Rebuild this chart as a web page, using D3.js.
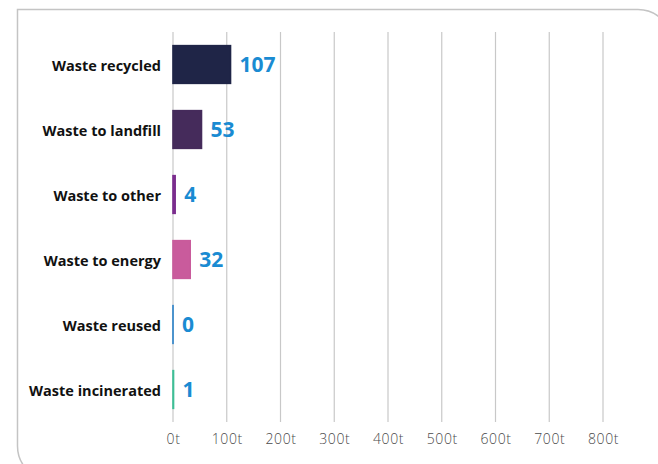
<!DOCTYPE html>
<html>
<head>
<meta charset="utf-8">
<script src="https://cdn.jsdelivr.net/npm/d3@7/dist/d3.min.js"></script>
<style>
  html, body { margin: 0; padding: 0; background: #fff; }
  svg { display: block; }
</style>
</head>
<body>
<svg id="chart" width="658" height="464"></svg>
<script>
// Waste breakdown, tonnes
const categories = ["Waste recycled", "Waste to landfill", "Waste to other", "Waste to energy", "Waste reused", "Waste incinerated"];
const values = [107, 53, 4, 32, 0, 1];
const barColors = ["#1f2547", "#452b5b", "#7b2d8e", "#c95b9c", "#2a82c9", "#3dbf96"];
const tickValues = [0, 100, 200, 300, 400, 500, 600, 700, 800];
const tickLabels = ["0t", "100t", "200t", "300t", "400t", "500t", "600t", "700t", "800t"];

const svg = d3.select("#chart");
const font = "'Open Sans', 'DejaVu Sans', sans-serif";

// Card outline: rounded top-right and bottom-left corners, running off the edge
const L = 17.5, T = 9.5, R = 672, B = 480, r = 34;
svg.append("path")
  .attr("d", `M${L},${T} H${R - r} A${r},${r} 0 0 1 ${R},${T + r} V${B} H${L + r} A${r},${r} 0 0 1 ${L},${B - r} Z`)
  .attr("fill", "none")
  .attr("stroke", "#c4c4c4")
  .attr("stroke-width", 1.5);

const x = d3.scaleLinear().domain([0, 800]).range([173, 603]);
const y = d3.scaleBand().domain(categories).range([32, 422]).paddingInner(0.42).paddingOuter(0.21);

// Vertical gridlines
svg.append("g").selectAll("line")
  .data(tickValues)
  .join("line")
  .attr("x1", d => x(d)).attr("x2", d => x(d))
  .attr("y1", 32).attr("y2", 422)
  .attr("stroke", "#c8c8c8")
  .attr("stroke-width", 1.2);

// Tick labels
const xAxis = d3.axisBottom(x).tickValues(tickValues).tickSize(0).tickPadding(0)
  .tickFormat((d, i) => tickLabels[i]);
const gx = svg.append("g").attr("transform", "translate(0,444)").call(xAxis);
gx.select(".domain").remove();
gx.selectAll("text")
  .attr("dy", 0)
  .attr("font-family", font)
  .attr("font-size", 14)
  .attr("font-weight", 300)
  .attr("letter-spacing", 0.6)
  .attr("fill", "#4a4a4a");

// Bars (a hairline minimum keeps zero values visible on the axis)
svg.append("g").selectAll("rect")
  .data(categories)
  .join("rect")
  .attr("x", x(0))
  .attr("y", d => y(d))
  .attr("width", (d, i) => Math.max(x(values[i]) - x(0), 0.01))
  .attr("height", y.bandwidth())
  .attr("fill", (d, i) => barColors[i])
  .attr("stroke", (d, i) => barColors[i])
  .attr("stroke-width", 1.6);

// Category labels
svg.append("g").selectAll("text")
  .data(categories)
  .join("text")
  .attr("x", 161)
  .attr("y", d => y(d) + y.bandwidth() / 2)
  .attr("dy", "0.45em")
  .attr("text-anchor", "end")
  .attr("font-family", font)
  .attr("font-size", 14.5)
  .attr("font-weight", 700)
  .attr("letter-spacing", 0)
  .attr("fill", "#111")
  .text(d => d);

// Value labels
svg.append("g").selectAll("text")
  .data(categories)
  .join("text")
  .attr("x", (d, i) => x(values[i]) + 9)
  .attr("y", d => y(d) + y.bandwidth() / 2)
  .attr("dy", "0.38em")
  .attr("font-family", font)
  .attr("font-size", 21)
  .attr("font-weight", 700)
  .attr("fill", "#1a8bd2")
  .text((d, i) => values[i]);
</script>
</body>
</html>
